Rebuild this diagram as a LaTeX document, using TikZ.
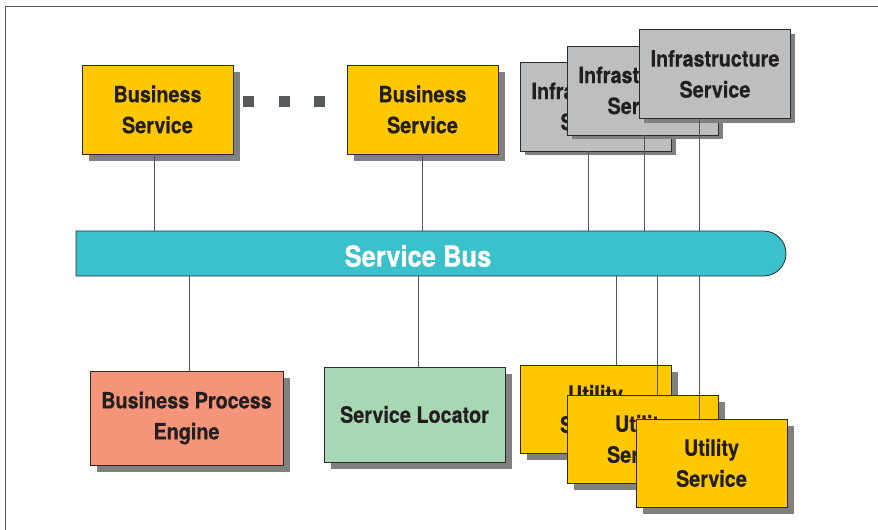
\documentclass[tikz,border=0pt]{standalone}
\usepackage{fontspec}
\setmainfont{TeX Gyre Heros}[FakeStretch=0.88, BoldFeatures={FakeBold=0.4}]
\usetikzlibrary{shadows,shapes.misc}

\definecolor{ink}{HTML}{231F20}
\definecolor{edge}{HTML}{2B2B2B}
\definecolor{shade}{HTML}{808080}
\definecolor{bizyellow}{HTML}{FFC800}
\definecolor{infragray}{HTML}{BCBEC0}
\definecolor{busteal}{HTML}{3BC1CC}
\definecolor{salmon}{HTML}{F4957A}
\definecolor{mint}{HTML}{A7D7B3}
\definecolor{dotgray}{HTML}{58595B}
\definecolor{linkgray}{HTML}{555555}
\definecolor{framegray}{HTML}{5A5A5A}

\tikzset{
  box/.style={draw=edge, line width=0.8pt, inner sep=0pt, align=center,
    text=ink, font=\fontsize{22.5}{31}\selectfont\bfseries,
    minimum width=151, minimum height=89},
  bigshadow/.style={drop shadow={shadow xshift=7pt, shadow yshift=-7pt,
    fill=shade, opacity=1}},
  smallshadow/.style={drop shadow={shadow xshift=4pt, shadow yshift=-4pt,
    fill=shade, opacity=1}},
  business/.style={box, bigshadow, fill=bizyellow},
  infra/.style={box, smallshadow, fill=infragray},
  utility/.style={box, bigshadow, fill=bizyellow},
  dotsq/.style={fill=dotgray, inner sep=0pt, minimum size=11},
  link/.style={draw=linkgray, line width=0.9pt},
}

\begin{document}
\begin{tikzpicture}[x=1pt, y=-1pt]
  \useasboundingbox (0,0) rectangle (878,530);

  % outer frame (top and left edges only)
  \draw[framegray, line width=1.5pt] (5.5,530) -- (5.5,6.5) -- (878,6.5);

  % business services
  \node[business] (bs1) at (157.5,109.5) {Business\\Service};
  \node[business] (bs2) at (422.5,109.5) {Business\\Service};
  \node[dotsq] (d1) at (248.5,101.5) {};
  \node[dotsq] (d2) at (284.5,101.5) {};
  \node[dotsq] (d3) at (319.5,101.5) {};

  % stacked infrastructure services
  \node[infra] (inf1) at (596,106.5) {Infrastructure\\Service};
  \node[infra] (inf2) at (643,90.5) {Infrastructure\\Service};
  \node[infra] (inf3) at (715,74) {Infrastructure\\Service};

  % service bus
  \node[draw=edge, line width=0.8pt, fill=busteal, rounded rectangle,
        rounded rectangle left arc=none, inner sep=0pt,
        minimum width=710, minimum height=45] (bus) at (431,253.5) {};
  \node[text=white, font=\fontsize{29}{34}\selectfont\bfseries, inner sep=0pt]
        (busl) at (418,256) {Service Bus};

  % lower row
  \node[box, bigshadow, fill=salmon, minimum width=193, minimum height=94]
        (bpe) at (186.5,418) {Business Process\\Engine};
  \node[box, bigshadow, fill=mint, minimum width=181, minimum height=95]
        (sl) at (414.5,414.5) {Service Locator};

  % stacked utility services
  \node[utility, minimum height=88] (ut1) at (595.5,409) {Utility\\Service};
  \node[utility, minimum height=88] (ut2) at (642.5,439) {Utility\\Service};
  \node[utility, minimum height=88] (ut3) at (711.5,463) {Utility\\Service};

  % connections to the bus
  \draw[link] ([xshift=-3.5pt]bs1.south) -- ([xshift=-3.5pt]bs1.south |- bus.north);
  \draw[link] (bs2.south) -- (bs2.south |- bus.north);
  \draw[link] ([xshift=-8pt]inf1.south) -- ([xshift=-8pt]inf1.south |- bus.north);
  \draw[link] ([xshift=1pt]inf2.south) -- ([xshift=1pt]inf2.south |- bus.north);
  \draw[link] ([xshift=-16pt]inf3.south) -- ([xshift=-16pt]inf3.south |- bus.north);

  \draw[link] ([xshift=2.5pt]bpe.north) -- ([xshift=2.5pt]bpe.north |- bus.south);
  \draw[link] ([xshift=3.5pt]sl.north) -- ([xshift=3.5pt]sl.north |- bus.south);
  \draw[link] ([xshift=20.5pt]ut1.north) -- ([xshift=20.5pt]ut1.north |- bus.south);
  \draw[link] ([xshift=14.5pt]ut2.north) -- ([xshift=14.5pt]ut2.north |- bus.south);
  \draw[link] ([xshift=-12.5pt]ut3.north) -- ([xshift=-12.5pt]ut3.north |- bus.south);
\end{tikzpicture}
\end{document}
